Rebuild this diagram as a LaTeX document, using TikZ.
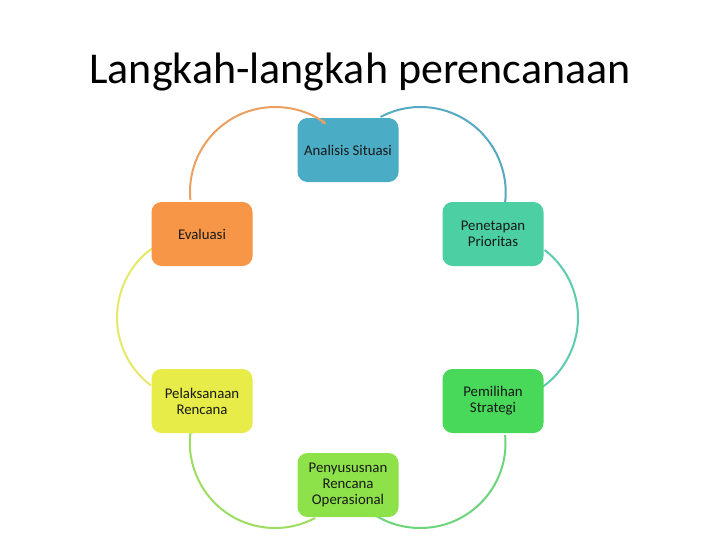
\documentclass[tikz,border=0pt]{standalone}
\usepackage{fontspec}
\setmainfont{Carlito}
\usetikzlibrary{arrows.meta,calc}
\definecolor{boxA}{HTML}{4BACC6}
\definecolor{boxB}{HTML}{4BCFA3}
\definecolor{boxC}{HTML}{48D85A}
\definecolor{boxD}{HTML}{8DE24A}
\definecolor{boxE}{HTML}{E8EC48}
\definecolor{boxF}{HTML}{F79646}
\definecolor{arcA}{HTML}{55A9C2}
\definecolor{arcB}{HTML}{5CCBAE}
\definecolor{arcC}{HTML}{6CD57A}
\definecolor{arcD}{HTML}{9CDD62}
\definecolor{arcE}{HTML}{E6E86A}
\definecolor{arcF}{HTML}{EBA062}
\begin{document}
\begin{tikzpicture}[x=1pt,y=-1pt,
  stepbox/.style={rounded corners=10pt, minimum width=101pt, minimum height=64pt,
    inner sep=2pt, align=center, font=\fontsize{14.8}{16}\selectfont, text=black!90},
  cyc/.style={line width=2pt, -{Stealth[length=5pt,width=5pt]}}]
\fill[white] (0,0) rectangle (720,540);
\node[anchor=base, font=\fontsize{44}{50}\selectfont] (title) at (360,83) {Langkah-langkah perencanaan};
% box centres
\coordinate (pA) at (348,150);
\coordinate (pB) at (493,234);
\coordinate (pC) at (493,401);
\coordinate (pD) at (348,485);
\coordinate (pE) at (202,401);
\coordinate (pF) at (202,234);
% arc centres
\coordinate (mAB) at ($(pA)!0.5!(pB)$);
\coordinate (mBC) at ($(pB)!0.5!(pC)$);
\coordinate (mCD) at ($(pC)!0.5!(pD)$);
\coordinate (mDE) at ($(pD)!0.5!(pE)$);
\coordinate (mEF) at ($(pE)!0.5!(pF)$);
\coordinate (mFA) at ($(pF)!0.5!(pA)$);
\node[stepbox, fill=boxA] (A) at (pA) {Analisis Situasi};
\draw[cyc, arcA] (mAB) ++(118:85pt) arc[start angle=118, end angle=-12, radius=85pt];
\node[stepbox, fill=boxB] (B) at (pB) {Penetapan\\Prioritas};
\draw[cyc, arcB] (mBC) ++(52.6:85pt) arc[start angle=52.6, end angle=-62, radius=85pt];
\node[stepbox, fill=boxC] (C) at (pC) {Pemilihan\\Strategi};
\draw[cyc, arcC] (mCD) ++(5.4:85pt) arc[start angle=5.4, end angle=-125, radius=85pt];
\node[stepbox, fill=boxD] (D) at (pD) {Penyususnan\\Rencana\\Operasional};
\draw[cyc, arcD] (mDE) ++(-62:85pt) arc[start angle=-62, end angle=-190, radius=85pt];
\node[stepbox, fill=boxE] (E) at (pE) {Pelaksanaan\\Rencana};
\draw[cyc, arcE] (mEF) ++(233:85pt) arc[start angle=233, end angle=122, radius=85pt];
\node[stepbox, fill=boxF] (F) at (pF) {Evaluasi};
\draw[cyc, arcF] (mFA) ++(185.5:85pt) arc[start angle=185.5, end angle=53, radius=85pt];
\end{tikzpicture}
\end{document}
